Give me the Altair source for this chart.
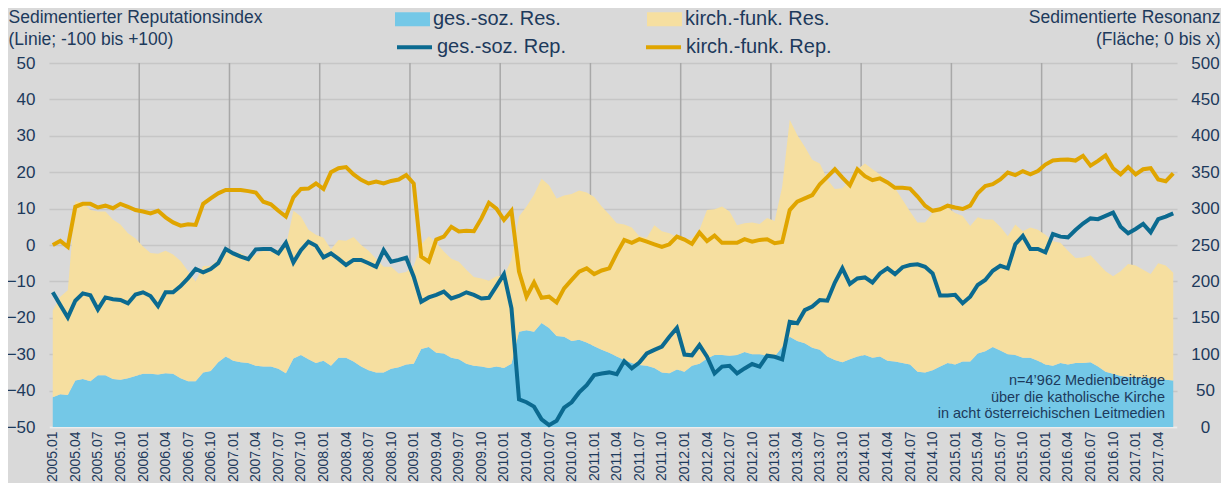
import json
import altair as alt
import pandas as pd

# ---------------- data ----------------
months = [f"{y}.{m:02d}" for y in range(2005, 2018) for m in range(1, 13)][:150]

series_res = ["ges.-soz. Res.", "kirch.-funk. Res."]
series_rep = ["ges.-soz. Rep.", "kirch.-funk. Rep."]

# Reputation index (left axis, -50..50)
ges_soz_rep = [
    -13, -16.5, -19.9, -15.3, -13.3, -13.8, -17.7, -14.4, -14.9, -15.1, -16, -13.6,
    -13, -14, -16.8, -13, -13, -11.3, -9.1, -6.6, -7.5, -6.6, -5, -1.1,
    -2.3, -3.2, -3.9, -1.2, -1.1, -1.1, -2.3, 0.6, -4.8, -1.4, 0.9, -0.2,
    -3.4, -2.3, -3.8, -5.5, -4.1, -4.1, -5, -6, -1.4, -4.6, -4.1, -3.5,
    -8.7, -15.6, -14.4, -13.7, -12.8, -14.7, -14, -13, -13.7, -14.7, -14.5, -11.3,
    -8, -17.4, -42.4, -43.2, -44.4, -47.9, -49.5, -48.3, -44.7, -43.2, -40.5, -38.5,
    -35.7, -35.3, -35, -35.5, -31.9, -33.9, -32.3, -29.8, -28.8, -27.9, -25.2, -22.8,
    -30.1, -30.3, -27.5, -30.7, -35.3, -33.4, -33.2, -35.3, -33.9, -32.7, -33.4, -30.4,
    -30.7, -31.4, -21.1, -21.5, -17.9, -16.9, -15.1, -15.3, -10.3, -6.4, -10.7, -9.2,
    -8.9, -10.3, -7.8, -6.4, -8, -6.1, -5.5, -5.3, -6, -7.8, -13.9, -13.9,
    -13.7, -16, -14.2, -11, -9.6, -7.1, -5.7, -6.4, 0.2, 2.5, -1.1, -1.1,
    -2, 3, 2.3, 2.1, 4.1, 5.9, 7.3, 7.1, 8, 8.9, 5, 3.2,
    4.4, 5.8, 3.5, 7.1, 7.8, 8.7,
]
kirch_funk_rep = [
    0, 1.1, -0.5, 10.5, 11.3, 11.3, 10.3, 10.8, 10.1, 11.3, 10.5, 9.6,
    9.2, 8.7, 9.4, 7.6, 6.2, 5.3, 5.7, 5.5, 11.3, 12.8, 14.2, 15.1,
    15.1, 15.1, 14.8, 14.4, 11.9, 11.2, 9.4, 7.8, 13.1, 15.4, 15.5, 16.9,
    15.4, 20, 21.1, 21.4, 19.4, 17.9, 16.9, 17.4, 16.9, 17.6, 18, 19.2,
    16.9, -3.2, -4.6, 1.5, 2.3, 5, 3.7, 3.9, 3.8, 7.3, 11.6, 10,
    6.9, 9.4, -7.3, -14.2, -10.3, -14.5, -14.2, -15.8, -11.9, -9.6, -7.3, -6.4,
    -8, -7, -6.4, -2.3, 1.4, 0.6, 1.6, 0.9, 0.2, -0.5, 0.2, 2.3,
    1.5, 0.3, 3.4, 1.1, 2.6, 0.6, 0.6, 0.6, 1.6, 0.9, 1.4, 1.6,
    0.5, 0.8, 9.6, 11.9, 12.8, 13.7, 16.7, 18.7, 20.8, 18.5, 16.4, 20.8,
    18.9, 17.8, 18.3, 17.2, 15.7, 15.7, 15.5, 13.3, 10.8, 9.4, 9.8, 10.8,
    10.3, 9.9, 10.8, 14.2, 16.2, 16.7, 18, 19.9, 19.2, 20.3, 19.4, 20.3,
    22.1, 23.2, 23.4, 23.5, 23.2, 24.5, 21.8, 23.1, 24.6, 21.1, 19.4, 21.4,
    19.4, 20.8, 21.1, 18, 17.5, 19.7,
]

# Resonance (right axis, 0..500), stacked areas
ges_soz_res = [
    41, 45, 44, 64, 66, 63, 71, 71, 66, 65, 67, 70,
    73, 73, 72, 74, 73, 67, 63, 63, 75, 77, 89, 97,
    91, 89, 88, 84, 83, 83, 80, 74, 94, 99, 93, 88,
    91, 84, 95, 95, 90, 83, 78, 75, 75, 80, 82, 86,
    87, 107, 110, 102, 101, 95, 93, 87, 84, 83, 81, 83,
    81, 87, 131, 133, 131, 143, 136, 125, 124, 118, 120, 116,
    111, 106, 102, 97, 92, 88, 85, 84, 81, 75, 74, 79,
    76, 84, 87, 94, 99, 99, 98, 99, 103, 100, 100, 98,
    97, 110, 124, 118, 115, 109, 106, 97, 92, 89, 93, 97,
    99, 95, 97, 91, 90, 88, 86, 76, 75, 78, 83, 88,
    86, 90, 90, 101, 104, 110, 105, 100, 99, 95, 95, 91,
    86, 84, 88, 86, 88, 88, 89, 83, 76, 73, 70, 69,
    68, 68, 67, 66, 65, 64,
]
kirch_funk_res = [
    119, 134, 144, 246, 242, 235, 225, 225, 219, 213, 199, 189,
    175, 166, 166, 168, 164, 161, 151, 137, 146, 144, 141, 145,
    149, 150, 145, 153, 160, 157, 164, 174, 203, 190, 178, 176,
    169, 160, 162, 161, 171, 167, 164, 156, 145, 140, 129, 127,
    134, 144, 152, 151, 140, 136, 134, 129, 122, 121, 120, 124,
    126, 143, 158, 170, 188, 198, 196, 189, 194, 202, 205, 206,
    205, 197, 190, 183, 186, 186, 177, 176, 196, 194, 192, 182,
    182, 175, 184, 204, 200, 204, 198, 178, 177, 181, 179, 189,
    186, 220, 298, 283, 270, 258, 256, 243, 235, 239, 246, 257,
    263, 259, 250, 244, 238, 224, 210, 205, 206, 216, 218, 213,
    208, 200, 186, 187, 181, 175, 170, 162, 179, 174, 179, 180,
    178, 171, 165, 156, 144, 145, 147, 142, 138, 134, 144, 155,
    154, 148, 143, 159, 157, 148,
]

left_title = ["Sedimentierter Reputationsindex", "(Linie; -100 bis +100)"]
right_title = ["Sedimentierte Resonanz", "(Fläche; 0 bis x)"]
note_lines = ["n=4’962 Medienbeiträge", "über die katholische Kirche",
              "in acht österreichischen Leitmedien"]

# ---------------- tables ----------------
res_rows = []
for k, vals in enumerate([ges_soz_res, kirch_funk_res]):
    for i, v in enumerate(vals):
        res_rows.append({"i": i, "series": series_res[k], "val": v, "ord": k})
res_df = pd.DataFrame(res_rows)

rep_rows = []
for k, vals in enumerate([ges_soz_rep, kirch_funk_rep]):
    for i, v in enumerate(vals):
        rep_rows.append({"i": i, "series": series_rep[k], "val": v})
rep_df = pd.DataFrame(rep_rows)

year_df = pd.DataFrame({"i": [i - 0.5 for i, m in enumerate(months)
                              if m.endswith(".01") and i > 0]})

# ---------------- style ----------------
FONT = "Liberation Sans"
NAVY = "#1d3a5c"
W, H = 1128, 364

xscale = alt.Scale(domain=[-0.5, len(months) - 0.5], nice=False, zero=False)
label_expr = json.dumps(months) + "[datum.value]"
xaxis = alt.Axis(
    values=list(range(0, len(months), 3)), labelExpr=label_expr,
    labelAngle=270, labelAlign="right", labelBaseline="middle",
    labelPadding=4, labelFontSize=14, labelFont=FONT, labelColor=NAVY,
    labelOverlap=False, labelFlush=False, labelBound=False,
    grid=False, ticks=False, domain=True, domainColor="#ececec",
    domainWidth=2, title=None)

vgrid = alt.Chart(year_df).mark_rule(color="#a8a8a8", strokeWidth=1.5).encode(
    x=alt.X("i:Q", scale=xscale, axis=xaxis)
)

area = alt.Chart(res_df).mark_area(interpolate="linear", opacity=1).encode(
    x=alt.X("i:Q", scale=xscale, axis=xaxis),
    y=alt.Y("val:Q", stack="zero", scale=alt.Scale(domain=[0, 500], nice=False),
            axis=alt.Axis(orient="right", values=list(range(0, 501, 50)),
                          grid=False, ticks=False, domain=False,
                          labelAlign="center", labelBaseline="middle",
                          labelPadding=28, labelFontSize=17, labelFont=FONT,
                          labelColor=NAVY, title=right_title, titleAngle=0,
                          titleAlign="right", titleBaseline="alphabetic",
                          titleX=43, titleY=-40.5, titleFont=FONT,
                          titleFontSize=17.5, titleFontWeight="normal",
                          titleColor=NAVY, titleLineHeight=21.5)),
    fill=alt.Fill("series:N", scale=alt.Scale(domain=series_res,
                                              range=["#74c8e7", "#f6dfa0"]),
                  legend=alt.Legend(orient="none", legendX=346, legendY=-61.5,
                                    direction="horizontal", columns=2,
                                    columnPadding=86, padding=0, title=None,
                                    symbolType="M-1,-0.4H1V0.4H-1Z",
                                    symbolSize=1225, symbolStrokeWidth=0,
                                    symbolOpacity=1, labelOffset=3,
                                    labelFontSize=20, labelFont=FONT,
                                    labelColor=NAVY, labelLimit=0)),
    order=alt.Order("ord:Q"),
)

lines = alt.Chart(rep_df).mark_line(strokeWidth=4).encode(
    x=alt.X("i:Q", scale=xscale, axis=xaxis),
    y=alt.Y("val:Q", scale=alt.Scale(domain=[-50, 50], nice=False),
            axis=alt.Axis(orient="left", values=list(range(-50, 51, 10)),
                          grid=True, gridColor="#c6c6c6", gridWidth=1.5,
                          ticks=False, domain=False, labelAlign="right",
                          labelBaseline="middle", labelPadding=14,
                          labelFontSize=17, labelFont=FONT, labelColor=NAVY,
                          title=left_title, titleAngle=0, titleAlign="left",
                          titleBaseline="alphabetic", titleX=-41, titleY=-40.5,
                          titleFont=FONT, titleFontSize=17.5,
                          titleFontWeight="normal", titleColor=NAVY,
                          titleLineHeight=21.5)),
    stroke=alt.Stroke("series:N", scale=alt.Scale(domain=series_rep,
                                                  range=["#0b6a90", "#e0a500"]),
                      legend=alt.Legend(orient="none", legendX=346, legendY=-35.5,
                                        direction="horizontal", columns=2,
                                        columnPadding=72, padding=0, title=None,
                                        symbolType="stroke", symbolSize=1225,
                                        symbolStrokeWidth=4, labelOffset=3,
                                        labelFontSize=20, labelFont=FONT,
                                        labelColor=NAVY, labelLimit=0)),
)

note = alt.Chart(pd.DataFrame({"a": [0]})).mark_text(
    align="right", baseline="middle", fontSize=14.5, font=FONT, color=NAVY,
    lineHeight=16.5
).encode(x=alt.value(1116), y=alt.value(318), text=alt.value(note_lines))

chart = alt.layer(vgrid, area, lines, note).resolve_scale(
    y="independent", fill="independent", stroke="independent"
).properties(
    width=W, height=H,
    autosize=alt.AutoSizeParams(type="none"),
    padding={"left": 41, "top": 55, "right": 44, "bottom": 56},
    background="#d9d9d9",
).configure_view(stroke=None)

chart.save("out.html", embed_options={"renderer": "svg", "actions": False})
